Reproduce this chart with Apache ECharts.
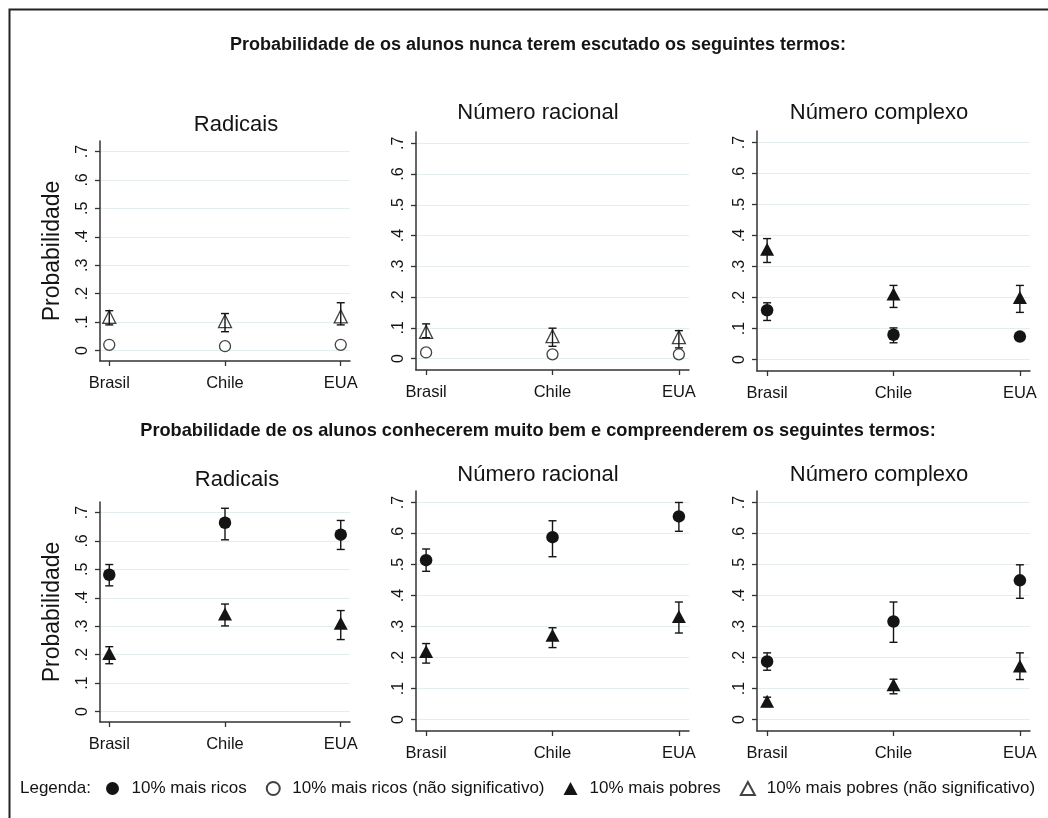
<!DOCTYPE html>
<html>
<head>
<meta charset="utf-8">
<script src="https://cdn.jsdelivr.net/npm/echarts@6/dist/echarts.min.js"></script>
<style>
html,body{margin:0;padding:0;background:#fff;}
#chart{width:1048px;height:818px;}
</style>
</head>
<body>
<div id="chart"></div>
<script>
// ---------- DATA ----------
const categories = ['Brasil', 'Chile', 'EUA'];
const yTickValues = [0, 0.1, 0.2, 0.3, 0.4, 0.5, 0.6, 0.7];
const yTickLabels = ['0', '.1', '.2', '.3', '.4', '.5', '.6', '.7'];
const panelTitles = ['Radicais', 'Número racional', 'Número complexo'];
const rowTitles = [
  'Probabilidade de os alunos nunca terem escutado os seguintes termos:',
  'Probabilidade de os alunos conhecerem muito bem e compreenderem os seguintes termos:'
];
const yAxisTitle = 'Probabilidade';
const legendLabel = 'Legenda:';
const legendNames = [
  '10% mais ricos',
  '10% mais ricos (não significativo)',
  '10% mais pobres',
  '10% mais pobres (não significativo)'
];

// Row 1: never heard of the term
const nuncaRadicaisRicos = [0.020, 0.015, 0.020];
const nuncaRadicaisPobres = [0.118, 0.103, 0.120];
const nuncaRadicaisPobresLo = [0.090, 0.066, 0.090];
const nuncaRadicaisPobresHi = [0.140, 0.130, 0.168];

const nuncaRacionalRicos = [0.020, 0.014, 0.014];
const nuncaRacionalPobres = [0.087, 0.073, 0.070];
const nuncaRacionalPobresLo = [0.068, 0.040, 0.035];
const nuncaRacionalPobresHi = [0.113, 0.099, 0.091];

const nuncaComplexoRicos = [0.159, 0.080, 0.074];
const nuncaComplexoRicosLo = [0.126, 0.054, 0.065];
const nuncaComplexoRicosHi = [0.183, 0.102, 0.084];
const nuncaComplexoPobres = [0.356, 0.211, 0.200];
const nuncaComplexoPobresLo = [0.313, 0.168, 0.152];
const nuncaComplexoPobresHi = [0.390, 0.239, 0.239];

// Row 2: know and understand the term very well
const bemRadicaisRicos = [0.481, 0.664, 0.622];
const bemRadicaisRicosLo = [0.442, 0.604, 0.570];
const bemRadicaisRicosHi = [0.517, 0.715, 0.672];
const bemRadicaisPobres = [0.204, 0.343, 0.310];
const bemRadicaisPobresLo = [0.168, 0.301, 0.253];
const bemRadicaisPobresHi = [0.228, 0.378, 0.355];

const bemRacionalRicos = [0.514, 0.588, 0.655];
const bemRacionalRicosLo = [0.478, 0.525, 0.607];
const bemRacionalRicosHi = [0.550, 0.641, 0.700];
const bemRacionalPobres = [0.219, 0.272, 0.332];
const bemRacionalPobresLo = [0.182, 0.232, 0.279];
const bemRacionalPobresHi = [0.245, 0.296, 0.379];

const bemComplexoRicos = [0.187, 0.316, 0.449];
const bemComplexoRicosLo = [0.159, 0.249, 0.391];
const bemComplexoRicosHi = [0.215, 0.379, 0.499];
const bemComplexoPobres = [0.059, 0.112, 0.173];
const bemComplexoPobresLo = [0.042, 0.083, 0.129];
const bemComplexoPobresHi = [0.072, 0.130, 0.215];

// ---------- PANELS (built from the arrays above) ----------
const panels = [
  {title: panelTitles[0], ricos: nuncaRadicaisRicos, ricosLo: null, ricosHi: null, ricosNS: true,
   pobres: nuncaRadicaisPobres, pobresLo: nuncaRadicaisPobresLo, pobresHi: nuncaRadicaisPobresHi, pobresNS: true},
  {title: panelTitles[1], ricos: nuncaRacionalRicos, ricosLo: null, ricosHi: null, ricosNS: true,
   pobres: nuncaRacionalPobres, pobresLo: nuncaRacionalPobresLo, pobresHi: nuncaRacionalPobresHi, pobresNS: true},
  {title: panelTitles[2], ricos: nuncaComplexoRicos, ricosLo: nuncaComplexoRicosLo, ricosHi: nuncaComplexoRicosHi, ricosNS: false,
   pobres: nuncaComplexoPobres, pobresLo: nuncaComplexoPobresLo, pobresHi: nuncaComplexoPobresHi, pobresNS: false},
  {title: panelTitles[0], ricos: bemRadicaisRicos, ricosLo: bemRadicaisRicosLo, ricosHi: bemRadicaisRicosHi, ricosNS: false,
   pobres: bemRadicaisPobres, pobresLo: bemRadicaisPobresLo, pobresHi: bemRadicaisPobresHi, pobresNS: false},
  {title: panelTitles[1], ricos: bemRacionalRicos, ricosLo: bemRacionalRicosLo, ricosHi: bemRacionalRicosHi, ricosNS: false,
   pobres: bemRacionalPobres, pobresLo: bemRacionalPobresLo, pobresHi: bemRacionalPobresHi, pobresNS: false},
  {title: panelTitles[2], ricos: bemComplexoRicos, ricosLo: bemComplexoRicosLo, ricosHi: bemComplexoRicosHi, ricosNS: false,
   pobres: bemComplexoPobres, pobresLo: bemComplexoPobresLo, pobresHi: bemComplexoPobresHi, pobresNS: false}
];

// ---------- LAYOUT ----------
const FONT = '"Liberation Sans", Arial, sans-serif';
const INK = '#141414';
const GRIDC = '#e4eef1';
const gridBoxes = [
  {left: 100, top: 141, width: 250, height: 220, titleX: 236, titleY: 114, yName: true},
  {left: 416, top: 132, width: 273, height: 238, titleX: 538, titleY: 102, yName: false},
  {left: 757, top: 131, width: 273, height: 240, titleX: 879, titleY: 102, yName: false},
  {left: 100, top: 502, width: 250, height: 220, titleX: 237, titleY: 469, yName: true},
  {left: 416, top: 491, width: 273, height: 240, titleX: 538, titleY: 464, yName: false},
  {left: 757, top: 491, width: 273, height: 240, titleX: 879, titleY: 464, yName: false}
];

function errRender(params, api) {
  const x = api.value(0), lo = api.value(1), hi = api.value(2);
  const a = api.coord([x, lo]);
  const b = api.coord([x, hi]);
  const cap = 4;
  const st = {stroke: INK, lineWidth: 1.4};
  return {
    type: 'group',
    children: [
      {type: 'line', shape: {x1: a[0], y1: a[1], x2: b[0], y2: b[1]}, style: st},
      {type: 'line', shape: {x1: a[0] - cap, y1: a[1], x2: a[0] + cap, y2: a[1]}, style: st},
      {type: 'line', shape: {x1: b[0] - cap, y1: b[1], x2: b[0] + cap, y2: b[1]}, style: st}
    ]
  };
}

const grids = [], xAxes = [], yAxes = [], series = [], titles = [];

titles.push({text: rowTitles[0], left: 538, top: 36, textAlign: 'center', padding: 0,
  textStyle: {fontFamily: FONT, fontSize: 18, fontWeight: 'bold', color: INK}});
titles.push({text: rowTitles[1], left: 538, top: 422, textAlign: 'center', padding: 0,
  textStyle: {fontFamily: FONT, fontSize: 18.2, fontWeight: 'bold', color: INK}});

panels.forEach((p, i) => {
  const g = gridBoxes[i];
  grids.push({left: g.left, top: g.top, width: g.width, height: g.height, containLabel: false});
  titles.push({text: p.title, left: g.titleX, top: g.titleY, textAlign: 'center', padding: 0,
    textStyle: {fontFamily: FONT, fontSize: 22, fontWeight: 'normal', color: INK}});
  xAxes.push({
    type: 'value', gridIndex: i, min: 0.92, max: 3.08,
    axisLine: {show: true, onZero: false, lineStyle: {color: '#333', width: 1.5}},
    axisTick: {show: true, length: 5, customValues: [1, 2, 3], lineStyle: {color: '#333', width: 1.3}},
    axisLabel: {show: true, customValues: [1, 2, 3], margin: 14,
      formatter: v => categories[Math.round(v) - 1],
      fontFamily: FONT, fontSize: 16.5, color: INK},
    splitLine: {show: false}
  });
  yAxes.push({
    type: 'value', gridIndex: i, min: -0.037, max: 0.737,
    name: g.yName ? yAxisTitle : '',
    nameLocation: 'middle', nameRotate: 90, nameGap: 36,
    nameTextStyle: {fontFamily: FONT, fontSize: 23, color: INK},
    axisLine: {show: true, onZero: false, lineStyle: {color: '#333', width: 1.5}},
    axisTick: {show: true, length: 5, customValues: yTickValues, lineStyle: {color: '#333', width: 1.3}},
    axisLabel: {show: true, customValues: yTickValues, rotate: 90, margin: 9,
      formatter: v => yTickLabels[Math.round(v * 10)],
      fontFamily: FONT, fontSize: 16, color: INK},
    splitLine: {show: true, lineStyle: {color: GRIDC, width: 1.2}}
  });

  const mk = arr => arr.map((v, k) => [k + 1, v]);
  const mkErr = (lo, hi) => lo.map((v, k) => [k + 1, v, hi[k]]);

  if (p.ricosLo) {
    series.push({type: 'custom', name: 'ci', xAxisIndex: i, yAxisIndex: i, renderItem: errRender,
      encode: {x: 0, y: [1, 2]}, data: mkErr(p.ricosLo, p.ricosHi), z: 2, silent: true});
  }
  if (p.pobresLo) {
    series.push({type: 'custom', name: 'ci', xAxisIndex: i, yAxisIndex: i, renderItem: errRender,
      encode: {x: 0, y: [1, 2]}, data: mkErr(p.pobresLo, p.pobresHi), z: 2, silent: true});
  }
  series.push({
    type: 'scatter', xAxisIndex: i, yAxisIndex: i, z: 3,
    name: p.ricosNS ? legendNames[1] : legendNames[0],
    symbol: 'circle', symbolSize: p.ricosNS ? 11 : 12.5,
    itemStyle: p.ricosNS ? {color: 'rgba(255,255,255,0)', borderColor: INK, borderWidth: 1.3}
                         : {color: INK, borderColor: INK, borderWidth: 0, opacity: 1},
    data: mk(p.ricos)
  });
  series.push({
    type: 'scatter', xAxisIndex: i, yAxisIndex: i, z: 3,
    name: p.pobresNS ? legendNames[3] : legendNames[2],
    symbol: 'triangle', symbolSize: p.pobresNS ? [13, 13] : [14, 13],
    itemStyle: p.pobresNS ? {color: 'rgba(255,255,255,0)', borderColor: INK, borderWidth: 1.3}
                          : {color: INK, borderColor: INK, borderWidth: 0, opacity: 1},
    data: mk(p.pobres)
  });
});

const chart = echarts.init(document.getElementById('chart'), null, {renderer: 'canvas'});
chart.setOption({
  animation: false,
  backgroundColor: '#ffffff',
  title: titles,
  grid: grids,
  xAxis: xAxes,
  yAxis: yAxes,
  legend: {
    data: legendNames,
    left: 106, top: 780, padding: 0,
    itemWidth: 14, itemHeight: 13, itemGap: 19,
    selectedMode: false,
    textStyle: {fontFamily: FONT, fontSize: 17, color: INK, padding: [0, 0, 0, 7]}
  },
  graphic: [
    {type: 'rect', left: 7, top: 7, shape: {x: 0, y: 0, width: 1100, height: 900},
     style: {fill: 'none', stroke: '#222', lineWidth: 2}, silent: true, z: -1},
    {type: 'text', left: 20, top: 780,
     style: {text: legendLabel, fontFamily: FONT, fontSize: 17, fill: INK}, silent: true}
  ],
  series: series
});
</script>
</body>
</html>
